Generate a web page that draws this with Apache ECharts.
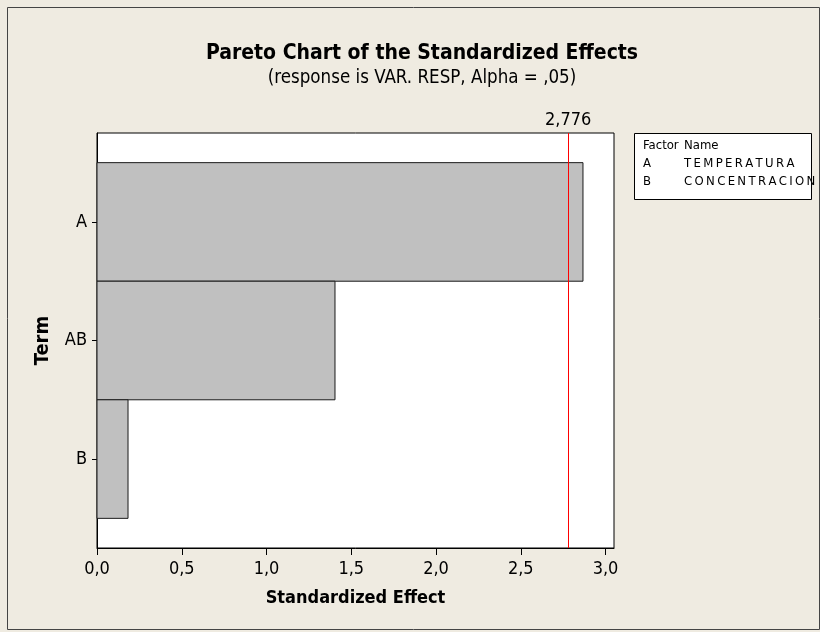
<!DOCTYPE html>
<html>
<head>
<meta charset="utf-8">
<script src="https://cdn.jsdelivr.net/npm/echarts@6/dist/echarts.min.js"></script>
<style>
  html, body { margin: 0; padding: 0; background: #EFEBE1; }
  #chart { width: 820px; height: 632px; }
</style>
</head>
<body>
<div id="chart"></div>
<script>
// Terms in Pareto order and their standardized effects
const terms = ['A', 'AB', 'B'];
const effects = [2.867, 1.404, 0.183];
const criticalValue = 2.776;
const criticalLabel = '2,776';
const xTicks = [0, 0.5, 1.0, 1.5, 2.0, 2.5, 3.0];
const factorCodes = ['A', 'B'];
const factorNames = ['TEMPERATURA', 'CONCENTRACION'];

const FONT = '"DejaVu Sans Condensed", "DejaVu Sans", sans-serif';
const commaDecimal = v => v.toFixed(1).replace('.', ',');
// spread letters of the factor names a little, as in the legend table
const spread = s => s.split('').join('\u2009');

const chart = echarts.init(document.getElementById('chart'), null, { renderer: 'canvas' });

const termPositions = terms.map((t, i) => i + 1);

// Factor/Name table at the top right
const legendX = 634, legendY = 133;
const rowTop = [139.5, 157.5, 175.5];
const legendText = [
  { type: 'text', left: legendX + 9, top: rowTop[0],
    style: { text: 'Factor', font: '13px ' + FONT, fill: '#000' } },
  { type: 'text', left: legendX + 50, top: rowTop[0],
    style: { text: 'Name', font: '13px ' + FONT, fill: '#000' } }
];
factorCodes.forEach((code, i) => {
  legendText.push({ type: 'text', left: legendX + 9, top: rowTop[i + 1],
    style: { text: code, font: '13px ' + FONT, fill: '#000' } });
  legendText.push({ type: 'text', left: legendX + 50, top: rowTop[i + 1],
    style: { text: spread(factorNames[i]), font: '13px ' + FONT, fill: '#000' } });
});

chart.setOption({
  animation: false,
  backgroundColor: '#EFEBE1',
  textStyle: { fontFamily: FONT },
  title: {
    text: 'Pareto Chart of the Standardized Effects',
    subtext: '(response is VAR. RESP, Alpha = ,05)',
    left: 417,
    textAlign: 'center',
    top: 38,
    itemGap: 5,
    textStyle: { fontFamily: FONT, fontSize: 21, fontWeight: 'bold', color: '#000' },
    subtextStyle: { fontFamily: FONT, fontSize: 18.6, color: '#000' }
  },
  grid: {
    left: 97, right: 206, top: 133, bottom: 84,
    show: true, backgroundColor: '#ffffff', borderColor: '#000', borderWidth: 1
  },
  xAxis: {
    type: 'value',
    min: 0,
    max: 3.05,
    interval: 0.5,
    name: 'Standardized Effect',
    nameLocation: 'middle',
    nameGap: 41,
    nameTextStyle: { fontFamily: FONT, fontSize: 18, fontWeight: 'bold', color: '#000' },
    axisLine: { show: true, lineStyle: { color: '#000', width: 1 } },
    axisTick: { show: true, length: 7, customValues: xTicks, lineStyle: { color: '#000' } },
    axisLabel: { customValues: xTicks, formatter: v => commaDecimal(v),
      fontFamily: FONT, fontSize: 18, color: '#000', margin: 12 },
    splitLine: { show: false }
  },
  yAxis: {
    type: 'value',
    inverse: true,
    min: 0.25,
    max: 3.75,
    name: 'Term',
    nameLocation: 'middle',
    nameGap: 44,
    nameRotate: 90,
    nameTextStyle: { fontFamily: FONT, fontSize: 20, fontWeight: 'bold', color: '#000' },
    axisLine: { show: true, lineStyle: { color: '#000', width: 1 } },
    axisTick: { show: true, length: 5, customValues: termPositions, lineStyle: { color: '#000' } },
    axisLabel: { customValues: termPositions, formatter: v => terms[Math.round(v) - 1] || '',
      fontFamily: FONT, fontSize: 18, color: '#000', margin: 10 },
    splitLine: { show: false }
  },
  series: [{
    type: 'custom',
    name: 'Effect',
    data: terms.map((t, i) => [effects[i], i + 1]),
    encode: { x: 0, y: 1 },
    renderItem: (params, api) => {
      const v = api.value(0), k = api.value(1);
      const p0 = api.coord([0, k - 0.5]);
      const p1 = api.coord([v, k + 0.5]);
      return {
        type: 'rect',
        shape: { x: p0[0], y: Math.min(p0[1], p1[1]),
                 width: p1[0] - p0[0], height: Math.abs(p1[1] - p0[1]) },
        style: { fill: '#C0C0C0', stroke: '#1a1a1a', lineWidth: 1 }
      };
    },
    markLine: {
      silent: true,
      symbol: ['none', 'none'],
      lineStyle: { color: '#FF0000', width: 1, type: 'solid' },
      label: { show: true, position: 'start', formatter: criticalLabel,
        fontFamily: FONT, fontSize: 18, color: '#000', distance: 4 },
      data: [{ xAxis: criticalValue }]
    }
  }],
  graphic: [
    { type: 'rect', left: 5, top: 5, z: -1,
      shape: { width: 812, height: 622 },
      style: { fill: 'none', stroke: '#444', lineWidth: 1 } },
    { type: 'rect', left: legendX, top: legendY,
      shape: { width: 177, height: 66 },
      style: { fill: '#fff', stroke: '#000', lineWidth: 1 } }
  ].concat(legendText)
});
</script>
</body>
</html>
